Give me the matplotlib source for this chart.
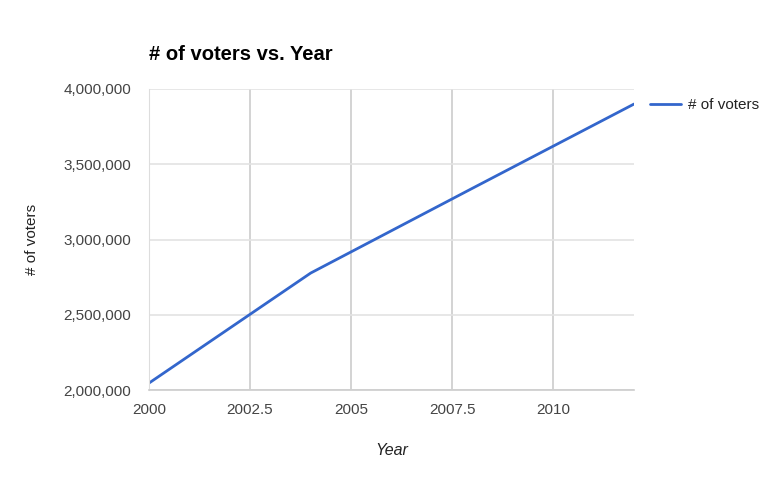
import matplotlib.pyplot as plt
from matplotlib.ticker import FuncFormatter

years = [2000, 2004, 2008, 2012]
voters = [2046000, 2777000, 3340000, 3900000]
x_ticks = [2000, 2002.5, 2005, 2007.5, 2010]
x_tick_labels = ["2000", "2002.5", "2005", "2007.5", "2010"]
y_ticks = [2000000, 2500000, 3000000, 3500000, 4000000]

plt.rcParams['font.family'] = ['Liberation Sans', 'DejaVu Sans']

fig = plt.figure(figsize=(7.82, 4.8), dpi=100)
ax = fig.add_axes([149 / 782, 1 - 390 / 480, 485 / 782, 301 / 480])

ax.plot(years, voters, color="#3366cc", lw=2, label="# of voters", solid_capstyle="round")

ax.set_xlim(2000, 2012)
ax.set_ylim(2000000, 4000000)
ax.set_xticks(x_ticks)
ax.set_xticklabels(x_tick_labels)
ax.set_yticks(y_ticks)
ax.yaxis.set_major_formatter(FuncFormatter(lambda v, p: "{:,.0f}".format(v)))

ax.grid(axis="y", color="#e3e3e3", lw=1.2)
ax.grid(axis="x", color="#cccccc", lw=1.2)
ax.set_axisbelow(True)
for s in ["top", "right"]:
    ax.spines[s].set_visible(False)
ax.spines["left"].set_color("#dddddd")
ax.spines["bottom"].set_color("#cccccc")
ax.spines["bottom"].set_linewidth(1.2)
ax.tick_params(length=0, labelsize=11, colors="#444444")
ax.tick_params(axis="y", pad=13)
ax.tick_params(axis="x", pad=9)

ax.set_xlabel("Year", fontsize=11.5, style="italic", color="#222222")
ax.xaxis.set_label_coords(0.5, -(443 - 390) / 301)
ax.set_ylabel("# of voters", fontsize=11, color="#222222")
ax.yaxis.set_label_coords((39 - 149) / 485, 0.5)

fig.text(149 / 782, 1 - 54 / 480, "# of voters vs. Year", fontsize=14.5,
         fontweight="bold", color="#000000", va="center")

ax.legend(loc="upper left", bbox_to_anchor=(1 + 7 / 485, 1.0), frameon=False,
          fontsize=11, handlelength=2.0, labelcolor="#222222",
          borderaxespad=0.2, handletextpad=0.5, borderpad=0.4)

fig.savefig("out.png", dpi=100)
